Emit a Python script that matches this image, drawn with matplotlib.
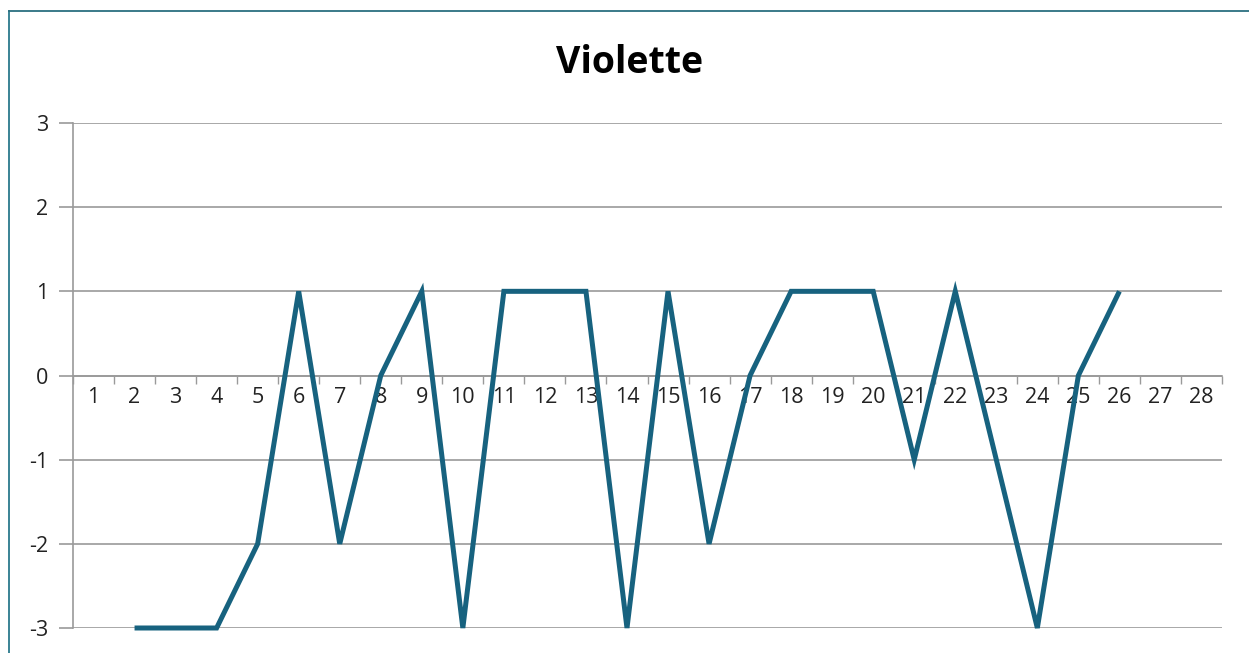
import numpy as np
import matplotlib
matplotlib.use("Agg")
import matplotlib.pyplot as plt
from matplotlib.ticker import FixedLocator
from matplotlib.lines import Line2D

# données
categories = list(range(1, 29))
values = [np.nan, -3, -3, -3, -2, 1, -2, 0, 1, -3, 1, 1, 1, -3, 1, -2, 0, 1, 1, 1, -1, 1, -1, -3, 0, 1,
          np.nan, np.nan]
y_ticks = [-3, -2, -1, 0, 1, 2, 3]
title = "Violette"

plt.rcParams['font.family'] = ['Open Sans', 'DejaVu Sans']
plt.rcParams['axes.unicode_minus'] = False

fig = plt.figure(figsize=(12.49, 6.53), dpi=100)
ax = fig.add_axes([73 / 1249, 1 - 628 / 653, (1222 - 73) / 1249, (628 - 123) / 653])

line_col = '#17627f'
grid_col = '#9a9a9a'

x = np.arange(len(categories))
ax.plot(x, values, color=line_col, lw=3.6, solid_joinstyle='miter', solid_capstyle='butt',
        zorder=3, clip_on=False)

ax.set_xlim(-0.5, len(categories) - 0.5)
ax.set_ylim(-3, 3)

# axe horizontal à zéro
for s in ['top', 'right']:
    ax.spines[s].set_visible(False)
ax.spines['bottom'].set_position(('data', 0))
ax.spines['bottom'].set_color(grid_col)
ax.spines['left'].set_color(grid_col)
ax.spines['left'].set_linewidth(1.2)
ax.spines['bottom'].set_linewidth(1.2)

ax.xaxis.set_major_locator(FixedLocator(x))
ax.set_xticklabels([str(c) for c in categories])
ax.xaxis.set_minor_locator(FixedLocator(np.arange(len(categories) + 1) - 0.5))
ax.tick_params(axis='x', which='major', length=0, pad=8, labelsize=15.5, colors='#222222')
ax.tick_params(axis='x', which='minor', length=6, width=1, color=grid_col, direction='out')

ax.set_yticks(y_ticks)
ax.tick_params(axis='y', length=10, width=1.2, color=grid_col, pad=8, labelsize=15.5, labelcolor='#222222')
for yv in y_ticks:
    ax.axhline(yv, color=grid_col, lw=1.2, zorder=1)

fig.text(630 / 1249, 1 - 63 / 653, title, ha='center', va='center', fontsize=27, fontweight='bold')

# cadre du graphique (bord gauche et haut)
bx, by = 9 / 1249, 1 - 11 / 653
fig.add_artist(Line2D([bx, bx], [0, by], transform=fig.transFigure, color='#2b7a8c', lw=1.3))
fig.add_artist(Line2D([bx, 1], [by, by], transform=fig.transFigure, color='#2b6f80', lw=1.3))

fig.savefig("out.png", dpi=100)
